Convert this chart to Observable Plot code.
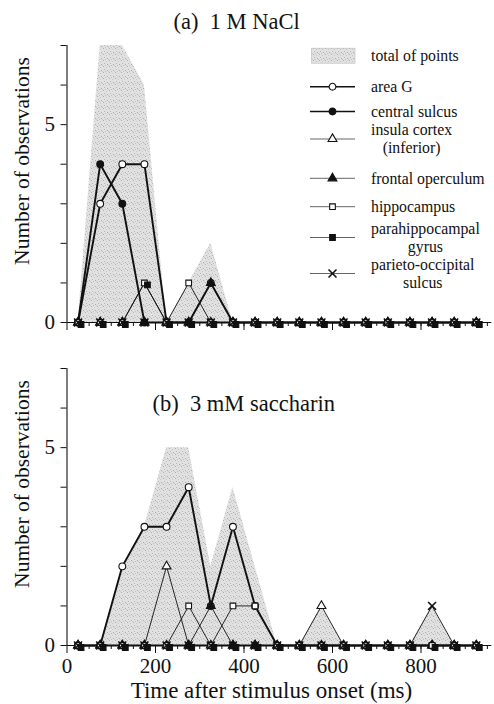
<!DOCTYPE html>
<html><head><meta charset="utf-8">
<script src="https://cdn.jsdelivr.net/npm/d3@7"></script>
<script src="https://cdn.jsdelivr.net/npm/@observablehq/plot@0.6"></script>
<style>
html,body{margin:0;padding:0;background:#fff;}
#wrap{position:relative;width:494px;height:704px;overflow:hidden;font-family:"Liberation Serif","Times New Roman",serif;}
#wrap > svg{position:absolute;left:0;overflow:visible;}
</style></head><body><div id="wrap">
<svg width="0" height="0" style="position:absolute">
  <defs>
    <pattern id="stipple" width="6" height="6" patternUnits="userSpaceOnUse">
      <rect width="6" height="6" fill="#e1e1e1"/>
      <rect x="1" y="0" width="1" height="1" fill="#b0b0b0"/>
      <rect x="4" y="1" width="1" height="1" fill="#c8c8c8"/>
      <rect x="2" y="3" width="1" height="1" fill="#b8b8b8"/>
      <rect x="5" y="4" width="1" height="1" fill="#acacac"/>
      <rect x="0" y="5" width="1" height="1" fill="#cacaca"/>
      <rect x="3" y="5" width="1" height="1" fill="#c0c0c0"/>
    </pattern>
  </defs>
</svg>
</div>
<script>
// ---------- data ----------
const times = [25, 75, 125, 175, 225, 275, 325, 375, 425, 475, 525, 575, 625, 675, 725, 775, 825, 875, 925];
const seriesNames = ["area G", "central sulcus", "insula cortex (inferior)", "frontal operculum", "hippocampus", "parahippocampal gyrus", "parieto-occipital sulcus"];

// (a) 1 M NaCl
const naclAreaG       = [0, 3, 4, 4, 0, 0, 1, 0, 0, 0, 0, 0, 0, 0, 0, 0, 0, 0, 0];
const naclCentral     = [0, 4, 3, 0, 0, 0, 0, 0, 0, 0, 0, 0, 0, 0, 0, 0, 0, 0, 0];
const naclInsula      = [0, 0, 0, 0, 0, 0, 0, 0, 0, 0, 0, 0, 0, 0, 0, 0, 0, 0, 0];
const naclFrontal     = [0, 0, 0, 0, 0, 0, 1, 0, 0, 0, 0, 0, 0, 0, 0, 0, 0, 0, 0];
const naclHippocampus = [0, 0, 0, 1, 0, 1, 0, 0, 0, 0, 0, 0, 0, 0, 0, 0, 0, 0, 0];
const naclParahipp    = [0, 0, 0, 1, 0, 0, 0, 0, 0, 0, 0, 0, 0, 0, 0, 0, 0, 0, 0];
const naclParieto     = [0, 0, 0, 0, 0, 0, 0, 0, 0, 0, 0, 0, 0, 0, 0, 0, 0, 0, 0];
const naclTotal       = [0, 7, 7, 6, 0, 1, 2, 0, 0, 0, 0, 0, 0, 0, 0, 0, 0, 0, 0];

// (b) 3 mM saccharin
const sacAreaG        = [0, 0, 2, 3, 3, 4, 1, 3, 1, 0, 0, 0, 0, 0, 0, 0, 0, 0, 0];
const sacCentral      = [0, 0, 0, 0, 0, 0, 0, 0, 0, 0, 0, 0, 0, 0, 0, 0, 0, 0, 0];
const sacInsula       = [0, 0, 0, 0, 2, 0, 0, 0, 0, 0, 0, 1, 0, 0, 0, 0, 0, 0, 0];
const sacFrontal      = [0, 0, 0, 0, 0, 0, 1, 0, 0, 0, 0, 0, 0, 0, 0, 0, 0, 0, 0];
const sacHippocampus  = [0, 0, 0, 0, 0, 1, 0, 1, 1, 0, 0, 0, 0, 0, 0, 0, 0, 0, 0];
const sacParahipp     = [0, 0, 0, 0, 0, 0, 0, 0, 0, 0, 0, 0, 0, 0, 0, 0, 0, 0, 0];
const sacParieto      = [0, 0, 0, 0, 0, 0, 0, 0, 0, 0, 0, 0, 0, 0, 0, 0, 1, 0, 0];
const sacTotal        = [0, 0, 2, 3, 5, 5, 2, 4, 2, 0, 0, 1, 0, 0, 0, 0, 1, 0, 0];

const yTicks = [0, 1, 2, 3, 4, 5, 6, 7];
const yTickLabels = [0, 5];
const xMinorTicks = [50, 100, 150, 200, 250, 300, 350, 400, 450, 500, 550, 600, 650, 700, 750, 800, 850, 900, 950];
const xTickLabels = [0, 200, 400, 600, 800];
const panelTitles = ["(a)\u00a0 1 M NaCl", "(b)\u00a0 3 mM saccharin"];
const yTitle = "Number of observations";
const xTitle = "Time after stimulus onset (ms)";
const legendLabels = [["total of points"], ["area G"], ["central sulcus"], ["insula cortex", "(inferior)"], ["frontal operculum"], ["hippocampus"], ["parahippocampal", "gyrus"], ["parieto-occipital", "sulcus"]];

// ---------- styles ----------
const SHADE = "url(#stipple)";
const INK = "#111";
const FONT = "Liberation Serif";
const seriesStyle = [
  {symbol: "circle",   fill: "white", sw: 1.9, r: 3.4},
  {symbol: "circle",   fill: INK,     sw: 1.9, r: 3.4},
  {symbol: "triangle", fill: "white", sw: 0.9, r: 3.3},
  {symbol: "triangle", fill: INK,     sw: 0.9, r: 3.3},
  {symbol: "square",   fill: "white", sw: 0.9, r: 3.2},
  {symbol: "square",   fill: INK,     sw: 0.9, r: 3.2, dx: 3, dy: 2},
  {symbol: "times",    fill: "none",  sw: 0.9, r: 3.7}
];

function makePanel(cfg) {
  const marks = [];
  marks.push(Plot.areaY(times.map((t, i) => ({t, v: cfg.total[i]})), {x: "t", y: "v", fill: SHADE}));
  cfg.series.forEach((vals, k) => {
    const d = times.map((t, i) => ({t, v: vals[i], s: seriesNames[k]}));
    marks.push(Plot.line(d, {x: "t", y: "v", stroke: INK, strokeWidth: seriesStyle[k].sw}));
  });
  marks.push(Plot.ruleY([0], {stroke: INK, strokeWidth: 1.1}));
  marks.push(Plot.ruleX([0], {y1: 0, y2: 7, stroke: INK, strokeWidth: 1.1}));
  marks.push(Plot.axisY({ticks: yTicks, tickSize: 6, tickPadding: 6, tickFormat: d => yTickLabels.includes(d) ? String(d) : "", label: null, fontSize: 21, stroke: INK}));
  marks.push(Plot.axisX({ticks: xMinorTicks, tickSize: 4, tickFormat: () => "", label: null, stroke: INK}));
  marks.push(Plot.axisX({ticks: xTickLabels, tickSize: 8, tickPadding: 5, tickFormat: cfg.xLabels ? (d => String(d)) : (() => ""), label: null, fontSize: 21, stroke: INK}));
  cfg.series.forEach((vals, k) => {
    const st = seriesStyle[k];
    const d = times.map((t, i) => ({t, v: vals[i]}));
    marks.push(Plot.dot(d, {
      x: "t", y: "v", symbol: st.symbol, r: st.r,
      fill: st.fill, stroke: INK, strokeWidth: st.symbol === "times" ? 1.6 : 1.1,
      dx: st.dx || 0, dy: st.dy || 0
    }));
  });
  marks.push(Plot.text([cfg.title], {frameAnchor: "top-left", textAnchor: "start", lineAnchor: "middle", dx: cfg.titleDx, dy: cfg.titleDy, fontSize: 22.5, fill: INK}));
  marks.push(Plot.text([yTitle], {frameAnchor: "left", textAnchor: "middle", lineAnchor: "middle", rotate: -90, dx: -44.5, dy: -23, fontSize: 21.5, fill: INK}));
  if (cfg.xLabels) marks.push(Plot.text([xTitle], {frameAnchor: "bottom", textAnchor: "middle", lineAnchor: "middle", dx: -8, dy: 45.5, fontSize: 23, fill: INK}));
  return Plot.plot({
    width: 494, height: cfg.height,
    marginLeft: 66.5, marginRight: 2.7, marginTop: cfg.marginTop, marginBottom: cfg.marginBottom,
    x: {domain: [0, 960]}, y: {domain: [0, 7]},
    style: {fontFamily: FONT, fontSize: "21px", background: "transparent", color: INK, overflow: "visible"},
    marks
  });
}

const wrap = document.getElementById("wrap");
const panelA = makePanel({
  series: [naclAreaG, naclCentral, naclInsula, naclFrontal, naclHippocampus, naclParahipp, naclParieto],
  total: naclTotal, title: panelTitles[0], titleDx: 106.5, titleDy: -24,
  xLabels: false, height: 334, marginTop: 45, marginBottom: 12
});
panelA.style.top = "0px";
wrap.appendChild(panelA);
const panelB = makePanel({
  series: [sacAreaG, sacCentral, sacInsula, sacFrontal, sacHippocampus, sacParahipp, sacParieto],
  total: sacTotal, title: panelTitles[1], titleDx: 85.5, titleDy: 35,
  xLabels: true, height: 370, marginTop: 34, marginBottom: 59
});
panelB.style.top = "334px";
wrap.appendChild(panelB);

// ---------- legend ----------
const legendY = [55.7, 86.7, 111.5, 139, 178.3, 206.7, 237.5, 273.5];
const leg = d3.select(wrap).append("svg").attr("width", 494).attr("height", 704)
  .style("top", "0px").attr("font-family", FONT).attr("font-size", 15.8).attr("fill", INK);
const textX = 371, lineX1 = 310, lineX2 = 355, markX = 332.5;
legendLabels.forEach((lines, i) => {
  const cy = legendY[i];
  if (i === 0) {
    leg.append("rect").attr("x", 311.5).attr("y", cy - 7.5).attr("width", 43.5).attr("height", 15)
      .attr("fill", SHADE).attr("stroke", "#bbb").attr("stroke-width", 0.6);
  } else {
    const st = seriesStyle[i - 1];
    leg.append("line").attr("x1", lineX1).attr("x2", lineX2).attr("y1", cy).attr("y2", cy)
      .attr("stroke", st.sw > 1 ? INK : "#555").attr("stroke-width", st.sw > 1 ? 1.5 : 0.9);
    const typ = {circle: d3.symbolCircle, triangle: d3.symbolTriangle, square: d3.symbolSquare, times: d3.symbolTimes}[st.symbol];
    leg.append("path").attr("d", d3.symbol(typ, Math.PI * st.r * st.r)())
      .attr("transform", `translate(${markX},${cy})`)
      .attr("fill", st.fill).attr("stroke", INK).attr("stroke-width", st.symbol === "times" ? 1.6 : 1.1);
  }
  if (lines.length === 1) {
    leg.append("text").attr("x", textX).attr("y", cy).attr("dy", "0.33em").text(lines[0]);
  } else {
    const t1 = leg.append("text").attr("x", textX).attr("y", cy - 9).attr("dy", "0.33em").text(lines[0]);
    const w = t1.node().getComputedTextLength();
    leg.append("text").attr("x", textX + w / 2).attr("y", cy + 9).attr("dy", "0.33em")
      .attr("text-anchor", "middle").text(lines[1]);
  }
});
</script></body></html>
